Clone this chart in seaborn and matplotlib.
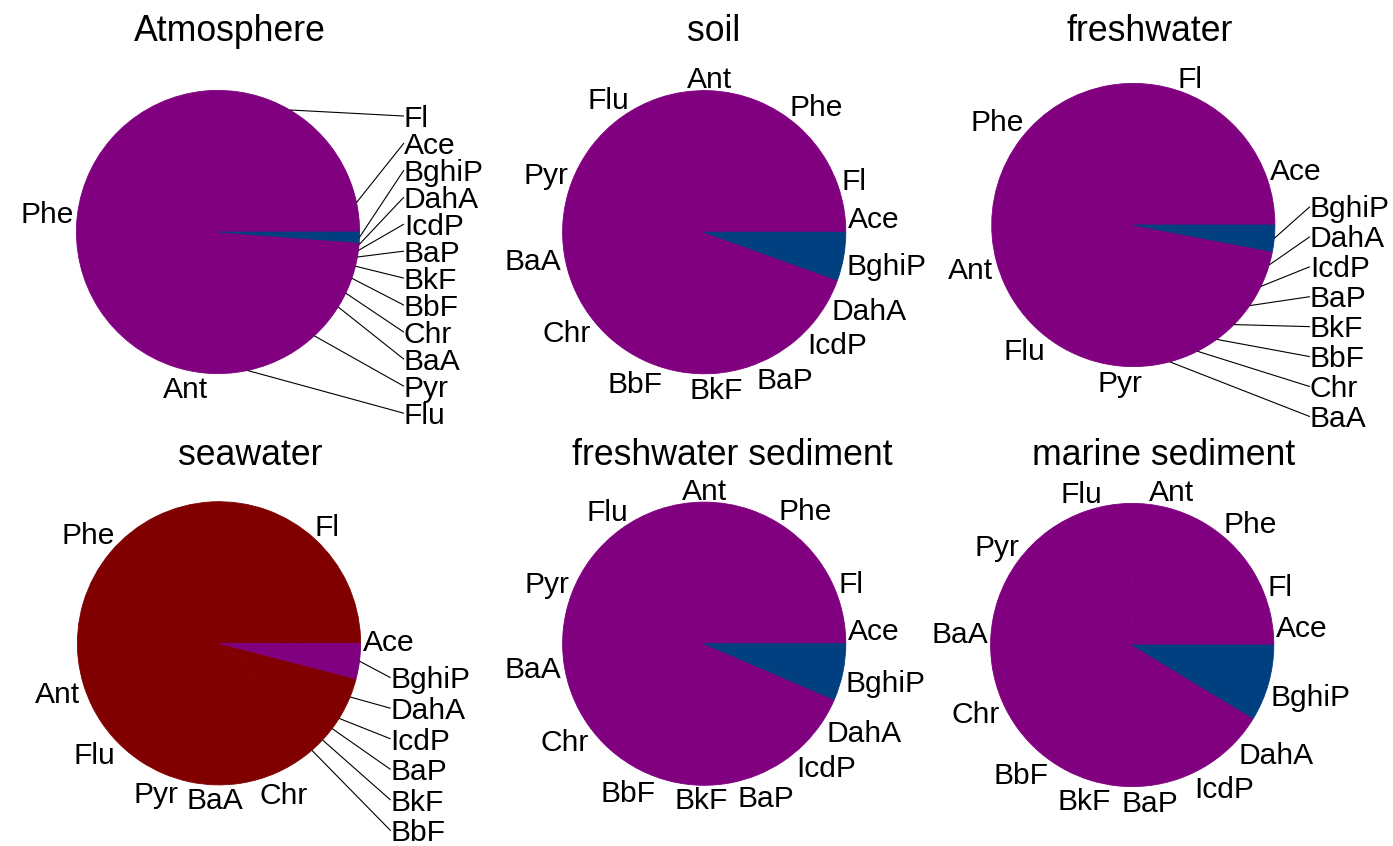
import numpy as np
import matplotlib
matplotlib.use("Agg")
import matplotlib.pyplot as plt
import seaborn as sns

# ---------------- data ----------------
compounds = ["Ace", "Fl", "Phe", "Ant", "Flu", "Pyr", "BaA", "Chr",
             "BbF", "BkF", "BaP", "IcdP", "DahA", "BghiP"]
titles = ["Atmosphere", "soil", "freshwater",
          "seawater", "freshwater sediment", "marine sediment"]

# share of each compound (%) per medium, in the order of `compounds`
atmosphere = [6.67, 19.72, 43.61, 3.33, 10.0, 7.11, 1.33, 2.22, 1.39, 1.44, 0.67, 0.83, 0.47, 1.19]
soil = [2.71, 5.47, 10.67, 11.28, 9.60, 9.18, 7.15, 7.65, 8.81, 7.40, 6.28, 5.46, 2.85, 5.50]
freshwater = [10.56, 17.22, 23.61, 5.56, 13.17, 7.00, 4.06, 2.61, 2.50, 2.61, 2.94, 2.06, 3.11, 3.00]
seawater = [0.61, 25.22, 26.11, 5.56, 8.06, 6.11, 5.83, 8.06, 1.67, 1.67, 1.67, 1.11, 4.31, 4.03]
freshwater_sediment = [2.78, 7.11, 9.81, 10.58, 9.42, 8.81, 7.31, 7.72, 7.83, 6.58, 6.42, 6.19, 2.97, 6.47]
marine_sediment = [3.47, 5.33, 7.97, 8.47, 9.72, 9.94, 7.78, 7.56, 6.89, 6.19, 6.89, 7.83, 3.28, 8.67]
shares = [atmosphere, soil, freshwater, seawater, freshwater_sediment, marine_sediment]

# labels drawn in a column with leader lines
leader_labels = [
    ["Ace", "Fl", "Flu", "Pyr", "BaA", "Chr", "BbF", "BkF", "BaP", "IcdP", "DahA", "BghiP"],
    [],
    ["BaA", "Chr", "BbF", "BkF", "BaP", "IcdP", "DahA", "BghiP"],
    ["BbF", "BkF", "BaP", "IcdP", "DahA", "BghiP"],
    [],
    [],
]
highlight = "BghiP"

# ---------------- style / layout ----------------
base_colors = ["#800080", "#800080", "#800080", "#800000", "#800080", "#800080"]
highlight_colors = ["#004080", "#004080", "#004080", "#800080", "#004080", "#004080"]

W, H, DPI = 1393, 846, 100
centers = [(218, 232), (704.2, 232.2), (1133.3, 225),
           (219, 643.3), (704.2, 643.7), (1132.2, 645)]
R = 141.6
title_pos = [(230, 28), (714, 28), (1150, 28), (250, 452), (732, 452), (1164, 452)]
# (x of label column, y top, y bottom) in pie-radius units
leader_cols = [(1.313, 0.819, -1.28), None, (1.247, 0.129, -1.353),
               (1.212, -0.243, -1.323), None, None]

sns.set_theme(style="white")
plt.rcParams["font.family"] = ["Liberation Sans", "DejaVu Sans"]

FS = 21.6
TFS = 25.7
fs_px = FS * DPI / 72
cap = 0.716 * fs_px
tcap = 0.716 * TFS * DPI / 72

fig = plt.figure(figsize=(W / DPI, H / DPI), dpi=DPI)
fig.patch.set_facecolor("white")
renderer = fig.canvas.get_renderer()

for i, vals in enumerate(shares):
    cx, cy = centers[i]
    ax = fig.add_axes([(cx - R) / W, (H - cy - R) / H, 2 * R / W, 2 * R / H])
    cols = [highlight_colors[i] if c == highlight else base_colors[i] for c in compounds]
    wedges, _ = ax.pie(vals, startangle=0, counterclock=True, colors=cols,
                       radius=1, wedgeprops=dict(linewidth=0.6))
    for wdg in wedges:
        wdg.set_edgecolor(wdg.get_facecolor())
    ax.set_xlim(-1, 1)
    ax.set_ylim(-1, 1)
    ax.set_aspect("auto")
    ax.axis("off")

    mids = {c: np.deg2rad((w.theta1 + w.theta2) / 2) for c, w in zip(compounds, wedges)}

    # regular labels around the pie
    for c in compounds:
        if c in leader_labels[i]:
            continue
        th = mids[c]
        t = ax.text(0, 0, c, fontsize=FS, ha="center", va="baseline",
                    clip_on=False, color="black")
        wpx = t.get_window_extent(renderer).width
        D = 1.015 + 0.5 * (wpx * abs(np.cos(th)) + cap * abs(np.sin(th))) / R
        t.set_position((D * np.cos(th), D * np.sin(th) - 0.5 * cap / R))

    # labels in a column with leader lines
    if leader_labels[i]:
        xl, ytop, ybot = leader_cols[i]
        signed = {c: np.arctan2(np.sin(mids[c]), np.cos(mids[c])) for c in leader_labels[i]}
        order = sorted(leader_labels[i], key=lambda c: -signed[c])
        n = len(order)
        for k, c in enumerate(order):
            y = ytop + (ybot - ytop) * k / (n - 1)
            th = mids[c]
            ax.plot([np.cos(th), xl], [np.sin(th), y], color="black", lw=0.8,
                    clip_on=False, solid_capstyle="butt")
            ax.text(xl, y - 0.5 * cap / R, c, fontsize=FS, ha="left", va="baseline",
                    clip_on=False, color="black")

    tx, ty = title_pos[i]
    fig.text(tx / W, 1 - (ty + tcap / 2) / H, titles[i], fontsize=TFS,
             ha="center", va="baseline", color="black")

fig.savefig("out.png", dpi=DPI, facecolor="white")
